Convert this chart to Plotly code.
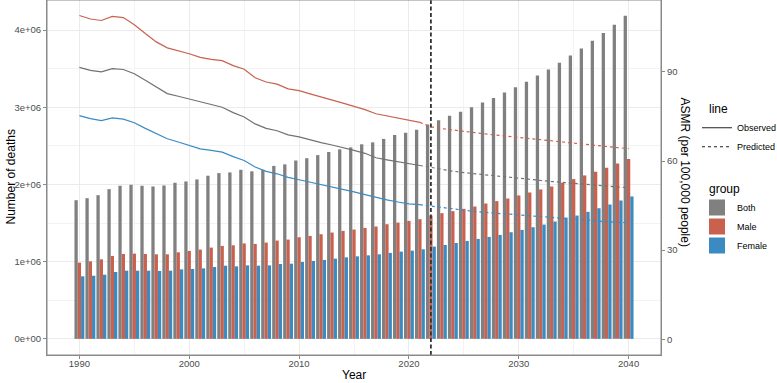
import plotly.graph_objects as go

years = list(range(1990, 2041))

deaths_both = [1.796e6, 1.822e6, 1.861e6, 1.939e6, 1.983e6, 1.996e6, 1.983e6, 1.974e6, 1.987e6, 2.022e6,
               2.039e6, 2.065e6, 2.113e6, 2.147e6, 2.156e6, 2.190e6, 2.170e6, 2.190e6, 2.240e6, 2.260e6,
               2.310e6, 2.340e6, 2.380e6, 2.420e6, 2.455e6, 2.480e6, 2.520e6, 2.545e6, 2.590e6, 2.640e6,
               2.670e6, 2.710e6, 2.778e6, 2.830e6, 2.890e6, 2.940e6, 3.000e6, 3.060e6, 3.120e6, 3.190e6,
               3.260e6, 3.330e6, 3.410e6, 3.490e6, 3.575e6, 3.670e6, 3.760e6, 3.860e6, 3.960e6, 4.070e6,
               4.185e6]
deaths_male = [0.987e6, 1.004e6, 1.030e6, 1.074e6, 1.100e6, 1.104e6, 1.100e6, 1.095e6, 1.095e6, 1.121e6,
               1.139e6, 1.156e6, 1.182e6, 1.204e6, 1.212e6, 1.236e6, 1.230e6, 1.247e6, 1.273e6, 1.286e6,
               1.316e6, 1.333e6, 1.355e6, 1.377e6, 1.398e6, 1.416e6, 1.437e6, 1.455e6, 1.485e6, 1.506e6,
               1.528e6, 1.550e6, 1.598e6, 1.628e6, 1.654e6, 1.684e6, 1.714e6, 1.753e6, 1.784e6, 1.818e6,
               1.857e6, 1.896e6, 1.935e6, 1.974e6, 2.022e6, 2.069e6, 2.117e6, 2.165e6, 2.216e6, 2.270e6,
               2.330e6]
deaths_female = [0.810e6, 0.818e6, 0.831e6, 0.866e6, 0.883e6, 0.883e6, 0.883e6, 0.879e6, 0.883e6, 0.900e6,
                 0.905e6, 0.913e6, 0.931e6, 0.948e6, 0.939e6, 0.952e6, 0.948e6, 0.952e6, 0.970e6, 0.974e6,
                 0.996e6, 1.009e6, 1.022e6, 1.039e6, 1.056e6, 1.069e6, 1.082e6, 1.095e6, 1.113e6, 1.130e6,
                 1.143e6, 1.160e6, 1.195e6, 1.216e6, 1.242e6, 1.268e6, 1.294e6, 1.320e6, 1.346e6, 1.381e6,
                 1.411e6, 1.446e6, 1.480e6, 1.520e6, 1.571e6, 1.597e6, 1.645e6, 1.692e6, 1.740e6, 1.792e6,
                 1.844e6]

obs_years = list(range(1990, 2022))
asmr_obs_both = [91.5, 90.5, 90.0, 91.1, 90.8, 89.4, 87.2, 84.8, 82.7, 81.8,
                 80.9, 79.9, 78.9, 78.1, 76.3, 74.8, 72.5, 71.0, 70.2, 68.8,
                 68.1, 67.1, 66.2, 65.4, 64.6, 63.6, 62.6, 61.1, 60.4, 59.7,
                 59.0, 58.5]
asmr_obs_male = [109.0, 107.8, 107.3, 108.7, 108.3, 105.9, 102.9, 100.1, 98.1, 97.2,
                 96.1, 94.9, 94.2, 93.8, 92.1, 90.9, 88.0, 86.6, 85.9, 84.3,
                 83.7, 82.6, 81.6, 80.7, 79.5, 78.4, 77.3, 75.9, 75.2, 74.3,
                 73.6, 73.0]
asmr_obs_female = [75.3, 74.3, 73.6, 74.5, 74.1, 72.9, 71.0, 69.2, 67.5, 66.4,
                   65.3, 64.1, 63.6, 63.0, 61.5, 60.2, 58.0, 56.5, 55.7, 54.5,
                   53.7, 52.9, 52.0, 51.3, 50.6, 49.6, 48.7, 47.7, 46.9, 46.2,
                   45.6, 45.3]

pred_years = list(range(2021, 2041))
asmr_pred_both = [58.5, 57.8, 57.2, 56.6, 56.1, 55.7, 55.3, 54.9, 54.5, 54.2,
                  53.8, 53.5, 53.1, 52.8, 52.5, 52.1, 51.8, 51.5, 51.3, 51.0]
asmr_pred_male = [73.0, 71.5, 70.9, 70.4, 69.9, 69.5, 69.1, 68.7, 68.3, 68.0,
                  67.6, 67.2, 66.8, 66.4, 66.0, 65.6, 65.2, 64.9, 64.5, 64.2]
asmr_pred_female = [45.3, 44.8, 44.3, 43.8, 43.4, 43.0, 42.7, 42.4, 42.1, 41.8,
                    41.5, 41.2, 40.9, 40.6, 40.4, 40.1, 39.9, 39.6, 39.4, 39.2]

groups = ["Both", "Male", "Female"]
line_types = ["Observed", "Predicted"]
cutoff_year = 2022

left_tickvals = [0, 1e6, 2e6, 3e6, 4e6]
left_ticktext = ["0e+00", "1e+06", "2e+06", "3e+06", "4e+06"]
right_tickvals = [0, 30, 60, 90]
x_tickvals = [1990, 2000, 2010, 2020, 2030, 2040]

bar_colors = {"Both": "#808080", "Male": "#C9614F", "Female": "#3B8BC2"}
line_colors = {"Both": "#727272", "Male": "#C9614F", "Female": "#3B8BC2"}

FONT = "Liberation Sans, Arial, sans-serif"
NBSP = "\u00a0"

fig = go.Figure()

bar_data = {"Both": deaths_both, "Male": deaths_male, "Female": deaths_female}
for g in groups:
    fig.add_trace(go.Bar(x=years, y=bar_data[g], name=g, marker_color=bar_colors[g],
                         marker_line_width=0, showlegend=False, yaxis="y"))

obs_data = {"Both": asmr_obs_both, "Male": asmr_obs_male, "Female": asmr_obs_female}
pred_data = {"Both": asmr_pred_both, "Male": asmr_pred_male, "Female": asmr_pred_female}
for g in groups:
    fig.add_trace(go.Scatter(x=obs_years, y=obs_data[g], mode="lines", yaxis="y2",
                             line=dict(color=line_colors[g], width=1.2), showlegend=False))
    fig.add_trace(go.Scatter(x=pred_years, y=pred_data[g], mode="lines", yaxis="y2",
                             line=dict(color=line_colors[g], width=1.2, dash="dot"), showlegend=False))

# legend entries: line types
fig.add_trace(go.Scatter(x=[None], y=[None], mode="lines", name=line_types[0],
                         line=dict(color="#222222", width=1.2), legend="legend", yaxis="y2"))
fig.add_trace(go.Scatter(x=[None], y=[None], mode="lines", name=line_types[1],
                         line=dict(color="#222222", width=1.2, dash="dot"), legend="legend", yaxis="y2"))
# legend entries: groups
for g in groups:
    fig.add_trace(go.Scatter(x=[None], y=[None], mode="markers", name=g,
                             marker=dict(symbol="square", size=16, color=bar_colors[g]),
                             legend="legend2", yaxis="y2"))

fig.add_shape(type="line", xref="x", yref="paper", x0=cutoff_year, x1=cutoff_year, y0=0, y1=1,
              line=dict(color="#333333", width=1.8, dash="4px,2.5px"), layer="above")

axis_common = dict(showline=True, linecolor="#8a8a8a", linewidth=1, mirror=False,
                   ticks="outside", ticklen=3, tickcolor="#8a8a8a",
                   tickfont=dict(family=FONT, size=9.5, color="#4d4d4d"), zeroline=False,
                   automargin=False)

LEG_X = (697 - 47) / 614

fig.update_layout(
    width=777, height=383,
    margin=dict(l=47, r=116, t=0, b=28, autoexpand=False),
    paper_bgcolor="white", plot_bgcolor="white",
    barmode="group", bargap=0.1, bargroupgap=0,
    font=dict(family=FONT, color="black"),
    xaxis=dict(range=[1987.05, 2042.95], tickvals=x_tickvals, showgrid=True, gridcolor="#EBEBEB",
               gridwidth=1, minor=dict(dtick=5, tick0=1990, showgrid=True, gridcolor="#F3F3F3", gridwidth=0.6),
               ticklabelstandoff=-3, **axis_common),
    yaxis=dict(range=[-0.209e6, 4.389e6], tickvals=left_tickvals, ticktext=left_ticktext,
               showgrid=True, gridcolor="#EBEBEB", gridwidth=1,
               minor=dict(dtick=0.5e6, tick0=0, showgrid=True, gridcolor="#F3F3F3", gridwidth=0.6),
               **axis_common),
    yaxis2=dict(range=[-5.29, 114.2], tickvals=right_tickvals, overlaying="y", side="right",
                showgrid=False, **axis_common),
    legend=dict(title=dict(text=NBSP * 3 + "line", font=dict(family=FONT, size=12)),
                font=dict(family=FONT, size=9), x=LEG_X, xanchor="left", y=0.725, yanchor="top",
                bgcolor="rgba(0,0,0,0)", itemwidth=30, tracegroupgap=0),
    legend2=dict(title=dict(text=NBSP * 3 + "group", font=dict(family=FONT, size=12)),
                 font=dict(family=FONT, size=9), x=LEG_X, xanchor="left", y=0.5, yanchor="top",
                 bgcolor="rgba(0,0,0,0)", itemsizing="trace", tracegroupgap=0),
    annotations=[
        dict(text="Number of deaths", xref="paper", yref="paper", x=0, y=0.5, xshift=-37,
             textangle=-90, showarrow=False, font=dict(family=FONT, size=12), xanchor="center", yanchor="middle"),
        dict(text="ASMR (per 100,000 people)", xref="paper", yref="paper", x=1, y=0.5, xshift=24, yshift=6,
             textangle=90, showarrow=False, font=dict(family=FONT, size=12), xanchor="center", yanchor="middle"),
        dict(text="Year", xref="paper", yref="paper", x=0.5, y=0, yshift=-20,
             showarrow=False, font=dict(family=FONT, size=12), xanchor="center", yanchor="middle"),
    ],
)
# panel border (ggplot theme_bw)
fig.add_shape(type="rect", xref="paper", yref="paper", x0=0, x1=1, y0=0, y1=1,
              line=dict(color="#8a8a8a", width=1), layer="above")

fig.write_html("out.html", config={"displayModeBar": False},
               post_script="document.body.style.margin='0';document.body.style.overflow='hidden';")
